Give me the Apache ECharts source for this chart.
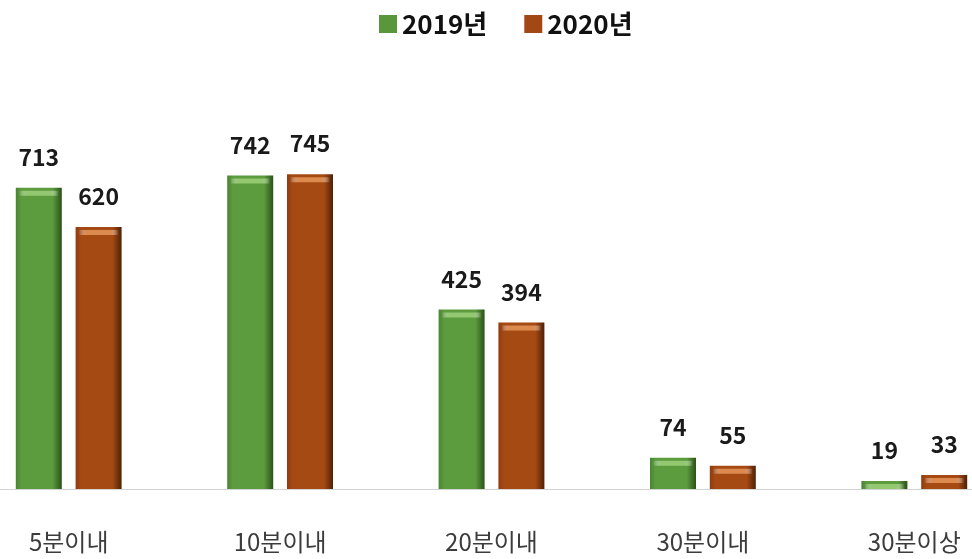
<!DOCTYPE html>
<html>
<head>
<meta charset="utf-8">
<style>
  html, body { margin: 0; padding: 0; background: #fff; }
  #chart { width: 972px; height: 559px; }
</style>
<script src="https://cdn.jsdelivr.net/npm/echarts@6/dist/echarts.min.js"></script>
</head>
<body>
<div id="chart"></div>
<script>
// Response time buckets and counts per year
const categories = ['5분이내', '10분이내', '20분이내', '30분이내', '30분이상'];
const seriesNames = ['2019년', '2020년'];
const values2019 = [713, 742, 425, 74, 19];
const values2020 = [620, 745, 394, 55, 33];

const FONT = '"Noto Sans CJK KR", "Noto Sans", sans-serif';

// horizontal shading gives each bar a rounded, cylinder-like face
function barFill(edgeL, mid, edgeR) {
  return new echarts.graphic.LinearGradient(0, 0, 1, 0, [
    { offset: 0, color: edgeL },
    { offset: 0.12, color: mid },
    { offset: 0.8, color: mid },
    { offset: 1, color: edgeR }
  ]);
}
function glint(color) {
  return new echarts.graphic.LinearGradient(0, 0, 1, 0, [
    { offset: 0, color: 'rgba(255,255,255,0)' },
    { offset: 0.2, color: color },
    { offset: 0.8, color: color },
    { offset: 1, color: 'rgba(255,255,255,0)' }
  ]);
}

const green = barFill('#4a8530', '#5c9b3e', '#2b521a');
const brown = barFill('#8e3c0f', '#a64a14', '#4e2106');

const valueLabel = {
  show: true,
  position: 'top',
  distance: 19,
  fontFamily: FONT,
  fontSize: 23,
  fontWeight: 'bold',
  color: '#1a1a1a'
};

const chart = echarts.init(document.getElementById('chart'));
chart.setOption({
  animation: false,
  backgroundColor: '#ffffff',
  legend: {
    top: 6,
    left: 374,
    itemWidth: 18,
    itemHeight: 18,
    itemGap: 37,
    icon: 'rect',
    textStyle: { fontFamily: FONT, fontSize: 26, fontWeight: 'bold', color: '#111' },
    data: [
      { name: seriesNames[0], itemStyle: { color: '#5a963c' } },
      { name: seriesNames[1], itemStyle: { color: '#a34814' } }
    ]
  },
  grid: { left: -37, right: -48, top: 151, bottom: 70, outerBoundsMode: 'none', containLabel: false },
  xAxis: {
    type: 'category',
    data: categories,
    axisLine: { lineStyle: { color: '#d4d4d4', width: 1 } },
    axisTick: { show: false },
    axisLabel: { margin: 41, fontFamily: FONT, fontSize: 24, color: '#3c3c3c' }
  },
  yAxis: {
    type: 'value',
    min: 0,
    max: 800,
    show: false,
    splitLine: { show: false }
  },
  series: [
    {
      name: seriesNames[0],
      type: 'bar',
      data: values2019,
      barWidth: 46,
      barGap: '30%',
      itemStyle: { color: green },
      label: valueLabel
    },
    {
      name: seriesNames[1],
      type: 'bar',
      data: values2020,
      barWidth: 46,
      barGap: '30%',
      itemStyle: { color: brown },
      label: valueLabel
    },
    // light bevel along the top edge of each bar
    {
      name: seriesNames[0],
      type: 'pictorialBar',
      data: values2019,
      barWidth: 46,
      barGap: '30%',
      symbol: 'rect',
      symbolSize: [40, 5],
      symbolPosition: 'end',
      symbolOffset: [0, 3],
      symbolClip: false,
      z: 3,
      itemStyle: { color: glint('#93c870') },
      silent: true
    },
    {
      name: seriesNames[1],
      type: 'pictorialBar',
      data: values2020,
      barWidth: 46,
      barGap: '30%',
      symbol: 'rect',
      symbolSize: [40, 5],
      symbolPosition: 'end',
      symbolOffset: [0, 3],
      symbolClip: false,
      z: 3,
      itemStyle: { color: glint('#dc8a4e') },
      silent: true
    }
  ]
});
</script>
</body>
</html>
